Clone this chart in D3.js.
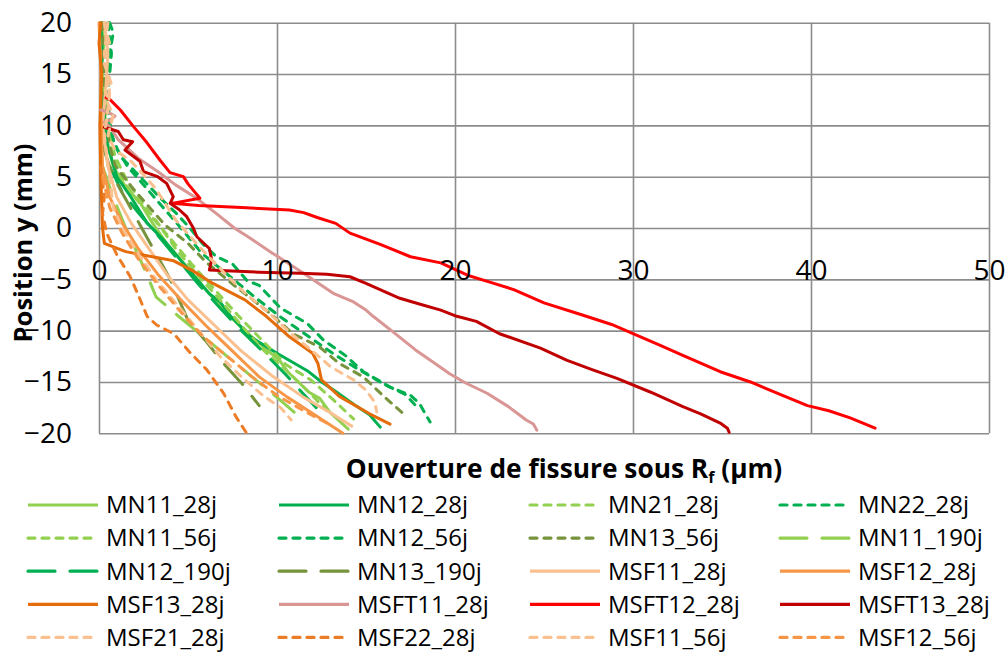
<!DOCTYPE html>
<html><head><meta charset="utf-8">
<script src="https://cdn.jsdelivr.net/npm/d3@7"></script>
<style>body{margin:0;background:#fff}svg{display:block}text{font-family:'Open Sans',sans-serif;fill:#000}</style>
</head><body><svg id="c" width="1007" height="655"></svg>
<script>
const xTicks=[0,10,20,30,40,50];
const yTicks=[-20,-15,-10,-5,0,5,10,15,20];
const seriesNames=["MN11_28j","MN12_28j","MN21_28j","MN22_28j","MN11_56j","MN12_56j","MN13_56j","MN11_190j","MN12_190j","MN13_190j","MSF11_28j","MSF12_28j","MSF13_28j","MSFT11_28j","MSFT12_28j","MSFT13_28j","MSF21_28j","MSF22_28j","MSF11_56j","MSF12_56j"];

const MN11_28j=[[0.1,20],[0.3,18],[0.1,16],[0.2,15],[0.4,12],[0.3,10],[0.5,8],[0.8,6],[1.5,4],[2.3,2.5],[3.0,0.5],[3.8,-1.5],[4.8,-3.5],[6.0,-6],[7.0,-8],[8.2,-10],[9.5,-12],[10.1,-12.8],[10.6,-14],[11.8,-16],[12.4,-16.6],[13.0,-18],[14.0,-19.6]];
const MN12_28j=[[0.1,20],[0.2,17],[0.1,14],[0.3,11],[0.5,8],[1.0,5],[1.8,3],[2.7,0.5],[3.8,-1.5],[5.0,-4],[6.2,-6.4],[6.8,-7.2],[7.4,-8.6],[8.5,-10.6],[10.0,-12.2],[11.7,-13.9],[12.5,-15.0],[13.2,-15.8],[14.5,-17.4],[15.2,-18.2],[15.8,-19.4]];
const MN21_28j=[[0.3,20],[0.5,18],[0.5,16],[0.3,14],[0.4,12],[0.6,10],[0.6,8],[1.2,5],[2.0,3],[3.0,1],[4.0,-1],[5.2,-3.5],[6.5,-6],[7.8,-8.5],[9.2,-11],[10.5,-13.3],[11.9,-14.8],[13.2,-16.8],[14.3,-18.6]];
const MN22_28j=[[0.6,20],[0.8,19],[0.6,17],[0.5,15],[0.5,12],[0.7,9],[1.2,7],[2.3,5],[3.4,3],[4.3,1.5],[5.1,0],[5.8,-1.5],[6.6,-2.8],[7.5,-3.5],[8.3,-5.1],[9.0,-5.6],[10.2,-7.8],[11.7,-9.3],[12.6,-10.9],[13.9,-12.5],[14.85,-14.0],[16.35,-15.5],[17.5,-16.3],[18.0,-17.1],[18.6,-18.9]];
const MN11_56j=[[0.2,20],[0.4,17],[0.3,15],[0.5,12],[0.5,10],[0.9,7],[1.6,4.5],[2.4,2.5],[3.3,0.5],[4.3,-2],[5.5,-4.5],[6.8,-7],[8.0,-9.5],[9.3,-12],[10.6,-14],[11.8,-16],[12.8,-17.8]];
const MN12_56j=[[0.5,20],[0.7,17],[0.5,13],[0.6,10],[0.9,8],[1.6,6],[2.6,4],[3.6,2],[4.6,0],[5.8,-2.5],[7.2,-4.5],[8.8,-6.8],[10.3,-8.8],[11.8,-10.6],[13.2,-12.3],[14.6,-13.8],[16.0,-15.2],[17.2,-16.2],[17.9,-17.5]];
const MN13_56j=[[0.2,20],[0.3,14],[0.4,10],[0.6,8],[0.9,6.1],[1.84,4.0],[2.96,1.75],[3.7,0.3],[5.0,-1.5],[6.0,-3.3],[7.6,-5.6],[9.6,-8.3],[10.9,-10.3],[12.4,-11.6],[13.5,-13.2],[14.85,-14.5],[16.0,-16.4],[17.3,-18.4]];
const MN11_190j=[[0.2,6],[0.8,3],[1.5,0],[2.3,-3],[2.8,-5],[3.2,-6.7],[4.4,-8.5],[5.8,-10.5],[7.2,-12.5],[8.6,-14.5],[10.0,-16.5],[11.0,-18]];
const MN12_190j=[[0.3,10],[0.6,6],[1.3,3.5],[2.2,1.5],[3.2,-0.5],[4.4,-3],[5.6,-5.5],[6.8,-7.8],[8.0,-10],[9.3,-12.2],[10.5,-14.3],[11.5,-16.2],[12.2,-17.5]];
const MN13_190j=[[0.2,8],[0.8,5],[1.6,2.5],[2.4,0],[3.2,-2.5],[4.0,-5],[4.5,-7],[5.0,-9],[6.0,-11],[7.0,-13.2],[8.1,-15.3],[9.0,-17.3]];
const MSF11_28j=[[0.3,20],[0.5,17],[0.4,14],[0.2,10],[0.5,6],[1.0,3],[1.8,0.5],[2.8,-2],[3.8,-4.5],[5.0,-7],[6.5,-9.5],[8.0,-12],[9.8,-14.5],[11.5,-16.5],[13.0,-18],[14.2,-19.3]];
const MSF12_28j=[[0.0,20],[0.1,16],[0.1,12],[0.2,6],[0.6,3],[1.3,0.5],[2.2,-2],[3.3,-4.5],[4.6,-7],[6.0,-9.5],[7.5,-12],[9.0,-14.5],[10.6,-16.5],[12.2,-18.3],[13.7,-20]];
const MSF13_28j=[[0.1,20],[0.0,18],[0.15,15],[0.05,10],[0.1,5],[0.2,0],[0.3,-1.5],[1.5,-2.3],[3.0,-2.8],[4.2,-3.2],[5.3,-4.2],[6.4,-5.4],[8.2,-7.0],[9.4,-8.6],[10.7,-10.6],[12.0,-12.2],[12.3,-13.2],[12.5,-14.8],[13.5,-16.4],[15.2,-18.1],[16.35,-19.1]];
const MSFT11_28j=[[0.1,11.5],[0.5,11.3],[0.9,10.9],[0.6,10.5],[0.3,10.3],[0.6,9.9],[1.08,8.6],[2.2,6.8],[3.3,5.5],[4.3,4.2],[5.4,3.0],[6.6,1.4],[7.6,0],[8.5,-1],[9.7,-2.4],[11.3,-4.2],[13.2,-6.4],[14.3,-7.2],[15.0,-8.0],[15.4,-8.6],[16.5,-10.1],[17.8,-11.9],[18.8,-13.1],[19.7,-14.2],[20.6,-15.1],[21.8,-16.1],[23.0,-17.4],[24.0,-18.7],[24.4,-19.1],[24.6,-19.7]];
const MSFT12_28j=[[0.4,12.7],[0.62,12.5],[1.2,11.5],[1.93,9.9],[2.7,8.3],[3.43,6.6],[3.99,5.4],[4.74,5.0],[5.0,4.3],[5.67,2.9],[4.1,2.4],[5.6,2.2],[8.0,2.0],[10.7,1.75],[11.5,1.5],[12.3,1.0],[13.3,0.45],[14.1,-0.5],[15.8,-1.6],[17.5,-2.8],[19.2,-3.4],[20.7,-4.6],[22.0,-5.3],[23.3,-6.0],[25.0,-7.3],[27.2,-8.5],[28.8,-9.4],[30.0,-10.3],[31.5,-11.4],[32.8,-12.4],[34.9,-14.0],[36.6,-15.0],[38.4,-16.3],[39.8,-17.3],[41.0,-17.8],[42.2,-18.5],[43.6,-19.5]];
const MSFT13_28j=[[0.3,9.8],[0.52,9.7],[1.08,9.4],[1.37,8.6],[1.89,8.4],[1.46,7.6],[2.3,6.5],[2.5,5.5],[3.3,5.0],[3.8,4.35],[4.17,3.05],[4.0,2.4],[4.5,1.8],[4.93,1.1],[5.3,0],[5.5,-0.85],[6.2,-2.0],[6.33,-3.1],[6.2,-4.1],[6.8,-4.15],[9.0,-4.3],[11.3,-4.4],[12.8,-4.5],[14.1,-4.75],[15.0,-5.4],[16.9,-6.85],[18.0,-7.4],[19.2,-8.0],[20.1,-8.6],[21.2,-9.1],[22.5,-10.3],[24.8,-11.7],[26.3,-12.9],[27.7,-13.8],[29.1,-14.65],[31.0,-16.0],[32.8,-17.4],[33.8,-18.1],[34.9,-19.0],[35.3,-19.5],[35.4,-19.9]];
const MSF21_28j=[[0.3,20],[0.6,18],[0.3,16],[0.7,14],[0.4,12.5],[0.8,11],[0.5,9],[0.9,7.6],[1.8,6.5],[2.6,5.0],[3.2,3.8],[4.3,0.8],[5.1,-0.8],[6.0,-2.5],[7.0,-4.3],[8.3,-6.5],[9.5,-8.2],[10.8,-10.3],[12.0,-12],[13.0,-13.5],[14.3,-14.8],[15.0,-15.8],[15.5,-17.0],[15.6,-17.9]];
const MSF22_28j=[[0.1,6],[0.3,3],[0.2,1.4],[0.43,-0.5],[1.0,-2.6],[1.74,-4.7],[2.2,-6.5],[2.7,-8.6],[3.24,-9.45],[4.2,-10.3],[5.1,-12.1],[6.05,-13.8],[7.0,-16.1],[7.7,-18.4],[8.3,-20]];
const MSF11_56j=[[0.5,20],[0.3,17],[0.6,13],[0.3,9],[0.6,5],[0.8,2],[1.3,0],[2.2,-2.5],[3.2,-5],[4.4,-7.5],[5.6,-10],[6.8,-12.5],[8.0,-14.5],[9.2,-16.3],[10.2,-17.5],[10.8,-18.7]];
const MSF12_56j=[[0.2,5],[0.6,2],[1.3,-0.5],[2.2,-3],[3.3,-5.5],[4.5,-8],[5.8,-10.5],[7.2,-12.5],[8.6,-14.5],[10.0,-16.3],[11.5,-17.8],[12.8,-19]];

const seriesValues=[MN11_28j,MN12_28j,MN21_28j,MN22_28j,MN11_56j,MN12_56j,MN13_56j,MN11_190j,MN12_190j,MN13_190j,MSF11_28j,MSF12_28j,MSF13_28j,MSFT11_28j,MSFT12_28j,MSFT13_28j,MSF21_28j,MSF22_28j,MSF11_56j,MSF12_56j];

// styles
const seriesColors=["#92D050","#00B050","#92D050","#00B050","#92D050","#00B050","#77933C","#92D050","#00B050","#77933C","#FAC090","#F79646","#E46C0A","#D99694","#FF0000","#C00000","#FAC090","#EC7C26","#FAC090","#F79646"];
const seriesDash=["s","s","d","d","d","d","d","l","l","l","s","s","s","s","s","s","d","d","d","d"];
const dashArr={s:null,d:"7 7",l:"27 15"};

const svg=d3.select("#c");
const x=d3.scaleLinear().domain([0,50]).range([99,989]);
const y=d3.scaleLinear().domain([-20,20]).range([433.3,22.7]);
const gridColor="#8C8C8C";

// gridlines via axes
const gx=svg.append("g").attr("transform",`translate(0,${y(-20)})`)
  .call(d3.axisBottom(x).tickValues(xTicks).tickSize(-(y(-20)-y(20))).tickFormat(""));
const gy=svg.append("g").attr("transform",`translate(${x(0)},0)`)
  .call(d3.axisLeft(y).tickValues(yTicks).tickSize(-(x(50)-x(0))).tickFormat(""));
[gx,gy].forEach(g=>{g.select(".domain").remove();g.selectAll("line").attr("stroke",gridColor).attr("stroke-width",1.6);});

// series
const line=d3.line().x(d=>x(d[0])).y(d=>y(d[1]));
const sg=svg.append("g");
seriesValues.forEach((vals,i)=>{
  sg.append("path").attr("d",line(vals)).attr("fill","none")
    .attr("stroke",seriesColors[i]).attr("stroke-width",3)
    .attr("stroke-linejoin","round").attr("stroke-linecap","round")
    .attr("stroke-dasharray",dashArr[seriesDash[i]]);
});

// tick labels
const ax=svg.append("g").attr("transform",`translate(0,${y(0)})`)
  .call(d3.axisBottom(x).tickValues(xTicks).tickSize(0).tickPadding(32.6).tickFormat(d3.format("d")));
const ay=svg.append("g").attr("transform",`translate(${x(0)},0)`)
  .call(d3.axisLeft(y).tickValues(yTicks).tickSize(0).tickPadding(27).tickFormat(d3.format("d")));
[ax,ay].forEach(g=>{g.select(".domain").remove();g.selectAll("text").attr("font-family","'Open Sans',sans-serif").attr("font-size",28).attr("fill","#000");});

// axis titles
const xt=svg.append("text").attr("x",564).attr("y",478).attr("text-anchor","middle")
  .attr("font-weight","bold").attr("font-size",26.3);
xt.append("tspan").text("Ouverture de fissure sous R");
xt.append("tspan").text("f").attr("font-size",16).attr("dy",5);
xt.append("tspan").text(" (µm)").attr("dy",-5);

svg.append("text").attr("transform","translate(31.5,243) rotate(-90)").attr("text-anchor","middle")
  .attr("font-weight","bold").attr("font-size",25.5).text("Position y (mm)");

// legend
const colX=[28,279,530,780];
const lg=svg.append("g");
seriesNames.forEach((n,i)=>{
  const cx=colX[i%4], cy=505+Math.floor(i/4)*33.1;
  lg.append("line").attr("x1",cx).attr("x2",cx+70).attr("y1",cy).attr("y2",cy)
    .attr("stroke",seriesColors[i]).attr("stroke-width",3.2)
    .attr("stroke-linecap",seriesDash[i]==="s"?"butt":"round")
    .attr("stroke-dasharray",dashArr[seriesDash[i]]);
  lg.append("text").attr("x",cx+78).attr("y",cy+8.3).attr("font-size",24).text(n);
});
</script></body></html>
